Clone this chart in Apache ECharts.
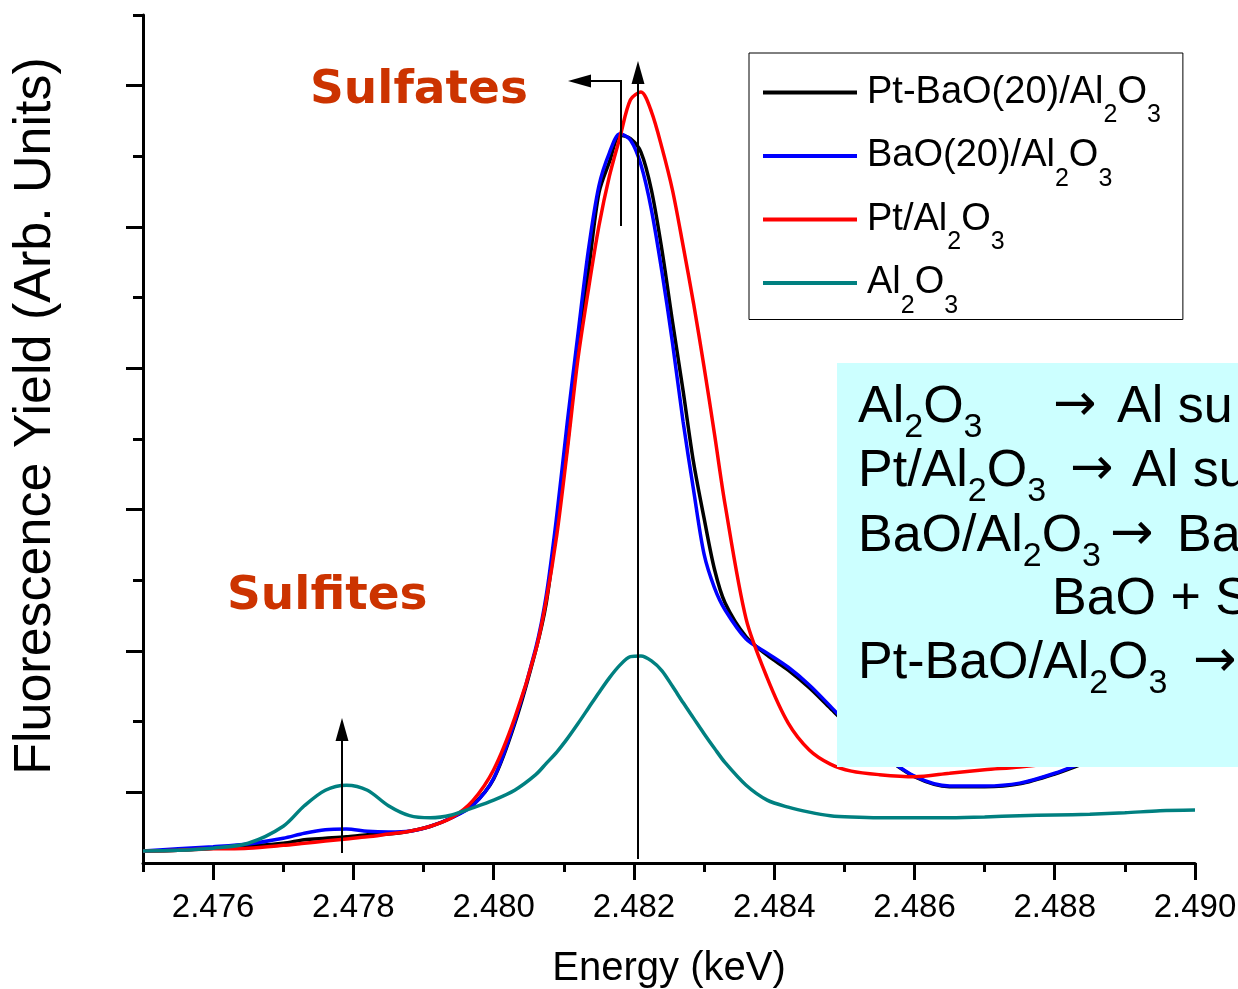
<!DOCTYPE html>
<html>
<head>
<meta charset="utf-8">
<script src="https://cdn.jsdelivr.net/npm/echarts@6/dist/echarts.min.js"></script>
<style>
  html, body { margin: 0; padding: 0; background: #fff; }
  #main { width: 1238px; height: 989px; }
</style>
</head>
<body>
<div id="main"></div>
<script>
// energy grid (keV), shared by all four spectra (denser around the white line)
const energy = [2.4750, 2.4755, 2.4760, 2.4765, 2.4770, 2.4773, 2.4776, 2.4779, 2.4782, 2.4785,
  2.4788, 2.4791, 2.4794, 2.4797, 2.4800, 2.4803, 2.4806, 2.48075, 2.4809, 2.48105,
  2.4812, 2.48135, 2.4815, 2.48165, 2.4818, 2.48195, 2.4821, 2.48225, 2.4824, 2.48255,
  2.4827, 2.48285, 2.4830, 2.48315, 2.4833, 2.4836, 2.4839, 2.4842, 2.4845, 2.4848,
  2.4851, 2.4855, 2.4860, 2.4865, 2.4870, 2.4875, 2.4880, 2.4885, 2.4890, 2.4895,
  2.4900]

// fluorescence yield, arb. units
const ptBaoAl = [0.17, 0.18, 0.21, 0.24, 0.28, 0.33, 0.35, 0.37, 0.40, 0.41,
  0.45, 0.52, 0.64, 0.82, 1.19, 1.97, 3.01, 3.68, 4.78, 5.91,
  7.33, 8.36, 9.48, 9.92, 10.30, 10.25, 10.06, 9.52, 8.67, 7.66,
  6.69, 5.67, 4.88, 4.15, 3.68, 3.20, 2.94, 2.73, 2.48, 2.19,
  1.90, 1.56, 1.22, 1.08, 1.08, 1.12, 1.26, 1.44, 1.61, 1.78,
  1.95]
const baoAl = [0.17, 0.20, 0.23, 0.27, 0.35, 0.42, 0.47, 0.48, 0.45, 0.44,
  0.45, 0.52, 0.64, 0.81, 1.20, 2.00, 3.04, 3.79, 4.92, 6.24,
  7.47, 8.67, 9.58, 10.05, 10.32, 10.23, 9.88, 9.24, 8.36, 7.36,
  6.25, 5.28, 4.37, 3.89, 3.58, 3.17, 2.97, 2.77, 2.52, 2.22,
  1.91, 1.57, 1.23, 1.09, 1.09, 1.13, 1.27, 1.46, 1.63, 1.80,
  1.97]
const ptAl = [0.17, 0.18, 0.20, 0.21, 0.25, 0.28, 0.31, 0.34, 0.37, 0.41,
  0.45, 0.52, 0.64, 0.88, 1.32, 2.05, 3.01, 3.72, 4.64, 5.84,
  7.12, 8.11, 9.01, 9.72, 10.27, 10.80, 10.91, 10.63, 10.12, 9.52,
  8.74, 7.92, 7.02, 6.06, 5.07, 3.45, 2.62, 1.98, 1.60, 1.40,
  1.30, 1.25, 1.22, 1.27, 1.32, 1.36, 1.42, 1.50, 1.57, 1.63,
  1.67]
const al2o3 = [0.17, 0.18, 0.21, 0.28, 0.52, 0.81, 1.03, 1.10, 1.03, 0.81,
  0.67, 0.64, 0.68, 0.78, 0.89, 1.03, 1.25, 1.41, 1.57, 1.76,
  1.97, 2.19, 2.41, 2.62, 2.80, 2.92, 2.93, 2.86, 2.72, 2.50,
  2.27, 2.05, 1.83, 1.62, 1.42, 1.10, 0.89, 0.79, 0.72, 0.67,
  0.65, 0.64, 0.64, 0.64, 0.65, 0.67, 0.68, 0.69, 0.71, 0.74,
  0.75]

const seriesNames = ['Pt-BaO(20)/Al2O3', 'BaO(20)/Al2O3', 'Pt/Al2O3', 'Al2O3']
const seriesColors = ['#000000', '#0000ff', '#ff0000', '#008080']
const seriesValues = [ptBaoAl, baoAl, ptAl, al2o3]

// tick positions
const xMajor = [2.476, 2.478, 2.480, 2.482, 2.484, 2.486, 2.488, 2.490]
const xMinor = [2.475, 2.477, 2.479, 2.481, 2.483, 2.485, 2.487, 2.489]
const yMajor = [1, 3, 5, 7, 9, 11]
const yMinor = [2, 4, 6, 8, 10, 12]

const FONT = 'Liberation Sans, Arial, sans-serif'
const HAND = 'Comic Sans MS, DejaVu Sans, sans-serif'

const chart = echarts.init(document.getElementById('main'))

// chemical formula with subscripts -> rich text
function formula(str, tag) {
  return str.replace(/Al2O3/, 'Al}{' + tag + 's|2}{' + tag + 'n|O}{' + tag + 's|3')
}

const legendRich = {
  ln: { fontFamily: FONT, fontSize: 38, lineHeight: 38, color: '#000' },
  ls: { fontFamily: FONT, fontSize: 25, lineHeight: 25, padding: [46, 0, 0, 0], color: '#000' },
  lf: { fontFamily: FONT, fontSize: 38, lineHeight: 38, padding: [0, 0, 0, 5], color: '#000' }
}
const boxRich = {
  bn: { fontFamily: FONT, fontSize: 52, lineHeight: 52, color: '#000' },
  bs: { fontFamily: FONT, fontSize: 34, lineHeight: 34, padding: [40, 0, 0, 0], color: '#000' }
}

function boxText(x, y, txt, family) {
  return {
    type: 'text', x: x, y: y, z: 110,
    style: {
      text: txt, fill: '#000', font: '52px ' + (family || FONT),
      textVerticalAlign: 'middle', textAlign: 'left', rich: boxRich
    }
  }
}
function boxFormula(x, y, str) {
  return boxText(x, y, '{bn|' + formula(str, 'b') + '}')
}

const arrowStyle = { stroke: '#000', lineWidth: 2 }

const option = {
  backgroundColor: '#fff',
  animation: false,
  grid: { left: 143, right: 43, top: 15, bottom: 126, containLabel: false, outerBoundsMode: 'none' },
  legend: {
    orient: 'vertical',
    left: 749, top: 53,
    padding: [4, 22, 1, 14],
    itemGap: -7.5,
    itemWidth: 94, itemHeight: 4,
    icon: 'rect',
    borderColor: '#000', borderWidth: 1,
    selectedMode: false,
    data: seriesNames,
    formatter: name => '{lf|' + formula(name, 'l') + '}',
    textStyle: { fontFamily: FONT, fontSize: 38, color: '#000', rich: legendRich }
  },
  xAxis: [{
    type: 'value', min: 2.475, max: 2.490,
    name: 'Energy (keV)', nameLocation: 'middle', nameGap: 86,
    nameTextStyle: { fontFamily: FONT, fontSize: 40, color: '#000' },
    axisLine: { onZero: false, lineStyle: { color: '#000', width: 3 } },
    axisTick: { customValues: xMajor, length: 17, lineStyle: { color: '#000', width: 3 } },
    axisLabel: {
      customValues: xMajor, margin: 28, fontFamily: FONT, fontSize: 33, color: '#000',
      formatter: v => v.toFixed(3)
    },
    splitLine: { show: false }
  }, {
    type: 'value', min: 2.475, max: 2.490, position: 'bottom',
    axisLine: { show: false, onZero: false },
    axisTick: { customValues: xMinor, length: 9, lineStyle: { color: '#000', width: 3 } },
    axisLabel: { show: false },
    splitLine: { show: false }
  }],
  yAxis: [{
    type: 'value', min: 0, max: 12,
    name: 'Fluorescence Yield (Arb. Units)', nameLocation: 'middle', nameGap: 81,
    nameTextStyle: { fontFamily: FONT, fontSize: 52, color: '#000', padding: [0, 0, 0, 46] },
    axisLine: { onZero: false, lineStyle: { color: '#000', width: 3 } },
    axisTick: { customValues: yMajor, length: 17, lineStyle: { color: '#000', width: 3 } },
    axisLabel: { show: false },
    splitLine: { show: false }
  }, {
    type: 'value', min: 0, max: 12, position: 'left',
    axisLine: { show: false, onZero: false },
    axisTick: { customValues: yMinor, length: 10, lineStyle: { color: '#000', width: 3 } },
    axisLabel: { show: false },
    splitLine: { show: false }
  }],
  series: seriesNames.map((name, k) => ({
    name: name,
    type: 'line',
    xAxisIndex: 0, yAxisIndex: 0,
    symbol: 'none',
    smooth: 0.3,
    color: seriesColors[k],
    lineStyle: { color: seriesColors[k], width: 3.5 },
    z: 2 + k,
    data: energy.map((e, i) => [e, seriesValues[k][i]])
  })),
  graphic: [
    // annotation arrows
    { type: 'line', z: 100, shape: { x1: 342, y1: 853, x2: 342, y2: 740 }, style: arrowStyle },
    { type: 'polygon', z: 100, shape: { points: [[342, 718], [335.5, 741], [348.5, 741]] }, style: { fill: '#000' } },
    { type: 'line', z: 100, shape: { x1: 638, y1: 859, x2: 638, y2: 82 }, style: arrowStyle },
    { type: 'polygon', z: 100, shape: { points: [[638, 61], [631.5, 84], [644.5, 84]] }, style: { fill: '#000' } },
    { type: 'polyline', z: 100, shape: { points: [[621, 226], [621, 81], [590, 81]] }, style: { stroke: '#000', lineWidth: 2, fill: null } },
    { type: 'polygon', z: 100, shape: { points: [[568, 81], [591, 74.5], [591, 87.5]] }, style: { fill: '#000' } },
    // handwritten labels
    { type: 'text', x: 310, y: 91, z: 100,
      style: { text: 'Sulfates', fill: '#cc3300', font: 'bold 47px ' + HAND, textVerticalAlign: 'middle' } },
    { type: 'text', x: 227, y: 597, z: 100,
      style: { text: 'Sulfites', fill: '#cc3300', font: 'bold 47px ' + HAND, textVerticalAlign: 'middle' } },
    // cyan text box
    { type: 'rect', z: 105, shape: { x: 837, y: 363, width: 401, height: 404 }, style: { fill: '#ccffff' } },
    boxFormula(858, 408, 'Al2O3'),
    boxText(1053, 406, '→', 'DejaVu Sans, sans-serif'),
    boxText(1117, 408, 'Al su'),
    boxFormula(858, 472, 'Pt/Al2O3'),
    boxText(1070, 470, '→', 'DejaVu Sans, sans-serif'),
    boxText(1132, 472, 'Al su'),
    boxFormula(858, 537, 'BaO/Al2O3'),
    boxText(1110, 535, '→', 'DejaVu Sans, sans-serif'),
    boxText(1177, 537, 'Ba'),
    boxText(1052, 600, 'BaO + S'),
    boxFormula(858, 664, 'Pt-BaO/Al2O3'),
    boxText(1193, 662, '→', 'DejaVu Sans, sans-serif')
  ]
}

chart.setOption(option)
</script>
</body>
</html>
